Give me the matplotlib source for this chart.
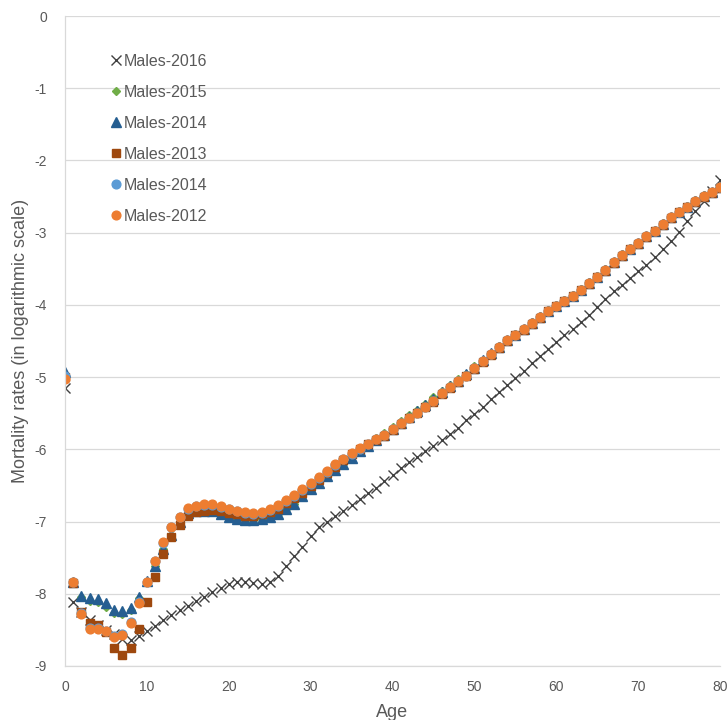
"""Male mortality rates by age (log scale), 2012-2016 -> out.png"""

import matplotlib
matplotlib.use("Agg")
import matplotlib.pyplot as plt

AGES = list(range(81))

MALES_2016 = [
    -5.15, -8.12, -8.25, -8.37, -8.43, -8.50, -8.55, -8.62, -8.64, -8.58,
    -8.52, -8.45, -8.37, -8.30, -8.23, -8.17, -8.10, -8.04, -7.98, -7.92,
    -7.86, -7.84, -7.84, -7.85, -7.86, -7.84, -7.76, -7.62, -7.48, -7.35,
    -7.20, -7.08, -7.00, -6.92, -6.85, -6.77, -6.69, -6.61, -6.53, -6.44,
    -6.35, -6.26, -6.18, -6.10, -6.02, -5.95, -5.87, -5.79, -5.70, -5.60,
    -5.51, -5.41, -5.31, -5.21, -5.11, -5.01, -4.91, -4.81, -4.71, -4.61,
    -4.51, -4.42, -4.33, -4.24, -4.14, -4.03, -3.92, -3.81, -3.72, -3.63,
    -3.53, -3.45, -3.34, -3.22, -3.11, -2.99, -2.84, -2.70, -2.56, -2.42,
    -2.27,
]
MALES_2015 = [
    -4.96, -7.84, -8.05, -8.10, -8.12, -8.18, -8.26, -8.28, -8.22, -8.06,
    -7.83, -7.62, -7.38, -7.18, -7.01, -6.89, -6.86, -6.85, -6.86, -6.89,
    -6.93, -6.96, -6.98, -6.98, -6.96, -6.93, -6.89, -6.83, -6.76, -6.66,
    -6.56, -6.47, -6.38, -6.29, -6.20, -6.11, -6.02, -5.94, -5.85, -5.77,
    -5.69, -5.61, -5.53, -5.45, -5.37, -5.28, -5.19, -5.11, -5.03, -4.95,
    -4.85, -4.76, -4.66, -4.57, -4.48, -4.40, -4.33, -4.24, -4.16, -4.07,
    -4.00, -3.93, -3.86, -3.78, -3.69, -3.60, -3.51, -3.40, -3.30, -3.21,
    -3.14, -3.04, -2.96, -2.87, -2.78, -2.70, -2.63, -2.55, -2.48, -2.43,
    -2.36,
]
MALES_2014_TRI = [
    -4.93, -7.84, -8.03, -8.06, -8.07, -8.13, -8.22, -8.24, -8.20, -8.05,
    -7.82, -7.62, -7.38, -7.18, -7.00, -6.88, -6.86, -6.85, -6.86, -6.89,
    -6.93, -6.96, -6.98, -6.98, -6.96, -6.93, -6.89, -6.83, -6.76, -6.65,
    -6.55, -6.46, -6.37, -6.29, -6.20, -6.12, -6.02, -5.95, -5.87, -5.80,
    -5.72, -5.63, -5.55, -5.47, -5.39, -5.31, -5.21, -5.13, -5.05, -4.96,
    -4.87, -4.77, -4.67, -4.58, -4.49, -4.41, -4.34, -4.25, -4.17, -4.08,
    -4.01, -3.94, -3.87, -3.79, -3.70, -3.61, -3.52, -3.41, -3.31, -3.22,
    -3.15, -3.05, -2.97, -2.88, -2.79, -2.71, -2.64, -2.56, -2.49, -2.44,
    -2.37,
]
MALES_2013 = [
    -5.00, -7.85, -8.25, -8.40, -8.43, -8.53, -8.75, -8.85, -8.75, -8.49,
    -8.12, -7.77, -7.45, -7.22, -7.05, -6.92, -6.87, -6.85, -6.84, -6.86,
    -6.88, -6.90, -6.92, -6.92, -6.90, -6.87, -6.82, -6.75, -6.68, -6.60,
    -6.51, -6.42, -6.33, -6.24, -6.15, -6.07, -5.99, -5.93, -5.87, -5.81,
    -5.73, -5.65, -5.57, -5.50, -5.42, -5.34, -5.23, -5.15, -5.07, -4.99,
    -4.89, -4.79, -4.69, -4.60, -4.50, -4.42, -4.35, -4.26, -4.18, -4.09,
    -4.02, -3.95, -3.88, -3.80, -3.71, -3.62, -3.53, -3.42, -3.32, -3.23,
    -3.16, -3.06, -2.98, -2.89, -2.80, -2.72, -2.65, -2.57, -2.50, -2.45,
    -2.38,
]
MALES_2014_CIR = [
    -4.99, -7.83, -8.27, -8.48, -8.48, -8.51, -8.59, -8.56, -8.39, -8.12,
    -7.83, -7.55, -7.29, -7.08, -6.94, -6.82, -6.79, -6.77, -6.77, -6.80,
    -6.83, -6.86, -6.88, -6.89, -6.88, -6.84, -6.78, -6.71, -6.64, -6.56,
    -6.48, -6.40, -6.31, -6.22, -6.14, -6.06, -5.99, -5.93, -5.86, -5.80,
    -5.72, -5.64, -5.56, -5.49, -5.41, -5.33, -5.22, -5.14, -5.06, -4.98,
    -4.88, -4.78, -4.68, -4.59, -4.49, -4.41, -4.34, -4.25, -4.17, -4.08,
    -4.01, -3.94, -3.87, -3.79, -3.70, -3.61, -3.52, -3.41, -3.31, -3.22,
    -3.15, -3.05, -2.97, -2.88, -2.79, -2.71, -2.64, -2.56, -2.49, -2.44,
    -2.37,
]
MALES_2012 = [
    -5.02, -7.83, -8.28, -8.49, -8.49, -8.52, -8.60, -8.57, -8.40, -8.13,
    -7.83, -7.55, -7.28, -7.08, -6.93, -6.81, -6.78, -6.76, -6.76, -6.79,
    -6.82, -6.85, -6.87, -6.88, -6.87, -6.83, -6.77, -6.70, -6.63, -6.55,
    -6.47, -6.39, -6.30, -6.21, -6.13, -6.05, -5.98, -5.92, -5.86, -5.80,
    -5.72, -5.64, -5.56, -5.49, -5.41, -5.33, -5.22, -5.14, -5.06, -4.98,
    -4.88, -4.78, -4.68, -4.59, -4.49, -4.41, -4.34, -4.25, -4.17, -4.08,
    -4.01, -3.94, -3.87, -3.79, -3.70, -3.61, -3.52, -3.41, -3.31, -3.22,
    -3.15, -3.05, -2.97, -2.88, -2.79, -2.71, -2.64, -2.56, -2.49, -2.44,
    -2.37,
]

LABELS = ["Males-2016", "Males-2015", "Males-2014", "Males-2013", "Males-2014", "Males-2012"]
X_TICKS = [0, 10, 20, 30, 40, 50, 60, 70, 80]
Y_TICKS = [0, -1, -2, -3, -4, -5, -6, -7, -8, -9]

TEXT = "#595959"
GRID = "#d9d9d9"

plt.rcParams["font.family"] = ["Liberation Sans", "DejaVu Sans"]
plt.rcParams["axes.unicode_minus"] = False  # Excel uses a plain hyphen

fig = plt.figure(figsize=(7.28, 7.2), dpi=100)
fig.patch.set_facecolor("white")
ax = fig.add_axes([65 / 728, 54 / 720, 655 / 728, 650 / 720])

# series in Excel order, last one drawn on top
ax.plot(AGES, MALES_2016, ls="none", marker="x", ms=7, mew=1.0, color="#404040", label=LABELS[0])
ax.plot(AGES, MALES_2015, ls="none", marker="D", ms=4.5, color="#70AD47", label=LABELS[1])
ax.plot(AGES, MALES_2014_TRI, ls="none", marker="^", ms=7, color="#255E91", label=LABELS[2])
ax.plot(AGES, MALES_2013, ls="none", marker="s", ms=5.5, color="#9E480E", label=LABELS[3])
ax.plot(AGES, MALES_2014_CIR, ls="none", marker="o", ms=6.3, color="#5B9BD5", label=LABELS[4])
ax.plot(AGES, MALES_2012, ls="none", marker="o", ms=6.3, color="#ED7D31", label=LABELS[5])

ax.set_xlim(0, 80)
ax.set_ylim(-9, 0)
ax.set_xticks(X_TICKS)
ax.set_yticks(Y_TICKS)
ax.tick_params(axis="both", length=0, labelsize=10, labelcolor=TEXT)
ax.tick_params(axis="y", pad=13)
ax.tick_params(axis="x", pad=10)
ax.grid(True, axis="y", color=GRID, lw=0.9)
ax.set_axisbelow(True)
for side in ("top", "right"):
    ax.spines[side].set_visible(False)
for side in ("left", "bottom"):
    ax.spines[side].set_color(GRID)
    ax.spines[side].set_linewidth(0.9)

ax.set_xlabel("Age", fontsize=13, color=TEXT, labelpad=7)
ax.set_ylabel("Mortality rates (in logarithmic scale)", fontsize=13, color=TEXT, labelpad=4)

leg = ax.legend(loc="upper left", bbox_to_anchor=(0.071, 0.942), frameon=False,
                fontsize=11.5, labelspacing=1.0, handlelength=0.6, handletextpad=0.15,
                borderpad=0, borderaxespad=0)
for t in leg.get_texts():
    t.set_color(TEXT)

fig.savefig("out.png", dpi=100, facecolor="white")
